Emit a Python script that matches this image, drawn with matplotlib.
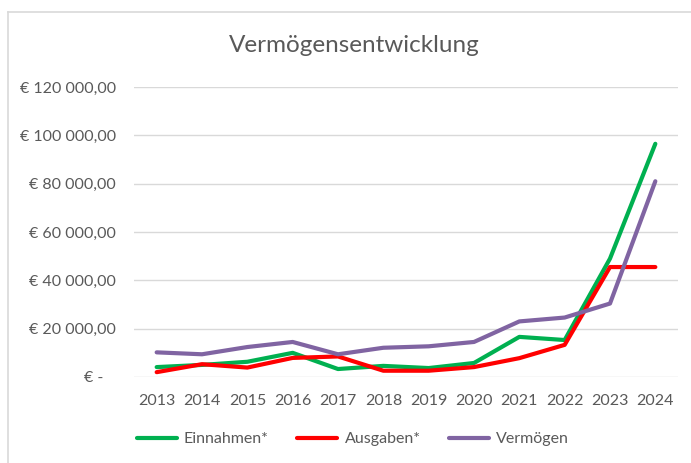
import matplotlib
matplotlib.use("Agg")
import matplotlib.pyplot as plt
from matplotlib.ticker import FuncFormatter, MultipleLocator
from matplotlib.lines import Line2D

# ===== データ =====
jahre = ["2013", "2014", "2015", "2016", "2017", "2018",
         "2019", "2020", "2021", "2022", "2023", "2024"]
einnahmen = [4100, 5000, 6300, 10000, 3300, 4600,
             3700, 5800, 16600, 15300, 49000, 96500]
ausgaben = [2000, 5300, 3900, 7900, 8500, 2600,
            2600, 4100, 7800, 13300, 45500, 45500]
vermoegen = [10200, 9400, 12400, 14500, 9400, 12100,
             12700, 14500, 23000, 24600, 30400, 81000]

serien = [
    ("Einnahmen*", einnahmen, "#00B050"),
    ("Ausgaben*", ausgaben, "#FF0000"),
    ("Vermögen", vermoegen, "#8064A2"),
]

plt.rcParams['font.family'] = ['Lato', 'DejaVu Sans']
text_col = "#595959"

W, H = 691, 463
fig = plt.figure(figsize=(W / 100, H / 100), dpi=100)
ax = fig.add_axes([134 / W, (H - 377) / H, (678 - 134) / W, (377 - 87) / H])

x = list(range(len(jahre)))
for name, werte, farbe in serien:
    ax.plot(x, werte, color=farbe, lw=3, label=name, solid_capstyle="round",
            solid_joinstyle="round")

ax.set_xlim(-0.5, len(jahre) - 0.5)
ax.set_ylim(0, 120000)
ax.yaxis.set_major_locator(MultipleLocator(20000))


def euro(v, pos):
    if v == 0:
        return "€ -   "
    s = f"{v:,.2f}".replace(",", " ").replace(".", ",")
    return "€ " + s


ax.yaxis.set_major_formatter(FuncFormatter(euro))
ax.set_xticks(x)
ax.set_xticklabels(jahre)
ax.tick_params(axis="both", length=0, labelsize=11.5, colors=text_col)
ax.tick_params(axis="y", pad=13)
ax.tick_params(axis="x", pad=12)
ax.grid(axis="y", color="#D9D9D9", lw=1)
ax.set_axisbelow(True)
for sp in ax.spines.values():
    sp.set_visible(False)

fig.text(354 / W, 1 - 45 / H, "Vermögensentwicklung", ha="center", va="center",
         fontsize=17.5, color=text_col)

leg = fig.legend(loc="center", bbox_to_anchor=(353 / W, 1 - 439 / H), ncol=3,
                 frameon=False, fontsize=11.5, handlelength=2.5, columnspacing=1.8,
                 handletextpad=0.45)
for t in leg.get_texts():
    t.set_color(text_col)

# 枠線
fig.add_artist(Line2D([7.5 / W, 7.5 / W], [0, 1 - 11.5 / H], color="#D9D9D9", lw=1.2))
fig.add_artist(Line2D([7.5 / W, 1], [1 - 11.5 / H, 1 - 11.5 / H], color="#D9D9D9", lw=1.2))

fig.savefig("out.png", dpi=100)
